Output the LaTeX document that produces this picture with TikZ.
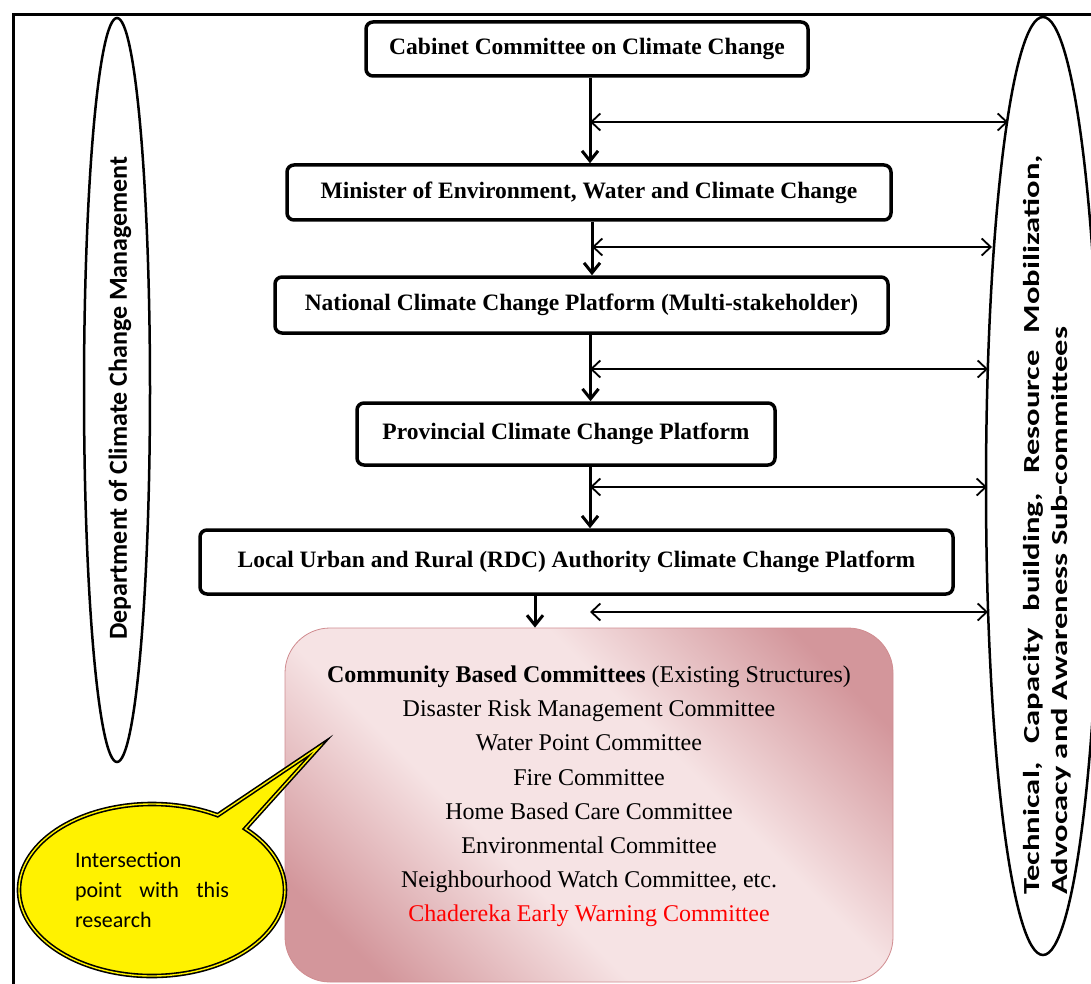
\documentclass[tikz,border=0pt]{standalone}
\usepackage{fontspec}
\setmainfont{Liberation Serif}
\newfontfamily\calibri{Carlito}
\usetikzlibrary{arrows.meta,positioning,shapes.geometric,shapes.callouts,calc}

\definecolor{rosedark}{HTML}{D3969B}
\definecolor{roselight}{HTML}{F6E3E4}
\definecolor{roseline}{HTML}{D08C90}
\pgfdeclareverticalshading{roseband}{100bp}{color(0bp)=(rosedark); color(22bp)=(rosedark);
  color(40bp)=(roselight); color(60bp)=(roselight); color(78bp)=(rosedark); color(100bp)=(rosedark)}

\begin{document}
\begin{tikzpicture}[x=1pt,y=-1pt,
  level node/.style={draw,line width=3.5pt,rounded corners=7pt,fill=white,inner sep=0pt,font=\bfseries\fontsize{23.5}{27}\selectfont},
  side ring/.style={draw,ellipse,line width=2.5pt,inner sep=0pt},
  down/.style={line width=3pt,-{Straight Barb[length=10pt,width=16pt,line width=3pt]}},
  link/.style={line width=1.8pt,{Straight Barb[length=9pt,width=17pt]}-{Straight Barb[length=9pt,width=17pt]}}]
\useasboundingbox (0,0) rectangle (1091,984);
\clip (0,0) rectangle (1091,984);
\draw[line width=3pt] (13,15) rectangle (1120,1020);

\begin{scope}
\node[side ring,minimum width=66pt,minimum height=744pt] (deptring) at (117,390) {};
\node[rotate=90,font=\calibri\bfseries\fontsize{26}{30}\selectfont] (dept) at (120,398) {Department of Climate Change Management};
\node[side ring,minimum width=114pt,minimum height=938pt] (techring) at (1043,486) {};
\node[rotate=90,inner sep=0pt] (tech) at (1047,525)
  {\scalebox{1.417}[1]{\parbox{522pt}{\calibri\bfseries\fontsize{23}{28}\selectfont
   Technical, Capacity building, Resource Mobilization,\linebreak Advocacy and Awareness Sub-committees}}};

\node[level node,minimum width=442pt,minimum height=54pt] (cab) at (587,49) {Cabinet Committee on Climate Change};
\node[level node,minimum width=604pt,minimum height=55pt] (min) at (589,192.5) {Minister of Environment, Water and Climate Change};
\node[level node,minimum width=613pt,minimum height=56pt] (nat) at (581.5,305) {National Climate Change Platform (Multi-stakeholder)};
\node[level node,minimum width=418pt,minimum height=62pt] (prov) at (566,434) {Provincial Climate Change Platform};
\node[level node,minimum width=753pt,minimum height=64pt] (loc) at (576.5,562) {Local Urban and Rural (RDC) Authority Climate Change Platform};

\node[draw=roseline,line width=0.8pt,rounded corners=45pt,minimum width=608pt,minimum height=354pt,
  shading=roseband,shading angle=-45,
  align=center,font=\fontsize{24}{34.2}\selectfont] (comm) at (589,805)
  {{\bfseries Community Based Committees} (Existing Structures)\\
   Disaster Risk Management Committee\\
   Water Point Committee\\
   Fire Committee\\
   Home Based Care Committee\\
   Environmental Committee\\
   Neighbourhood Watch Committee, etc.\\
   \textcolor{red}{Chadereka Early Warning Committee}\\[-12pt]\mbox{}};

\node[ellipse callout,draw=black,fill=yellow,line width=1.6pt,double=yellow,double distance=1.4pt,
  minimum width=266pt,minimum height=172pt,callout absolute pointer={(319,747)},
  text width=154pt,align=justify,font=\calibri\fontsize{22}{30}\selectfont] (note) at (152,890)
  {Intersection point with this research};
\end{scope}

\begin{scope}
\draw[down] ([xshift=3pt]cab.south) -- ([xshift=3pt]cab.south |- min.north);
\draw[down] ([xshift=3pt]min.south) -- ([xshift=3pt]min.south |- nat.north);
\draw[down] ([xshift=9pt]nat.south) -- ([xshift=9pt]nat.south |- prov.north);
\draw[down] ([xshift=24pt]prov.south) -- ([xshift=24pt]prov.south |- loc.north);
\draw[down] ([xshift=-41.5pt]loc.south) -- ([xshift=-41.5pt]loc.south |- comm.north);

\coordinate (r1) at (1008,122);
\coordinate (r2) at (992,247);
\coordinate (r3) at (988,369);
\coordinate (r4) at (987,487);
\coordinate (r5) at (988,612);
\draw[link] (590,122) -- (r1);
\draw[link] (592,247) -- (r2);
\draw[link] (590,369) -- (r3);
\draw[link] (590,487) -- (r4);
\draw[link] (590,612) -- (r5);
\end{scope}
\end{tikzpicture}
\end{document}
